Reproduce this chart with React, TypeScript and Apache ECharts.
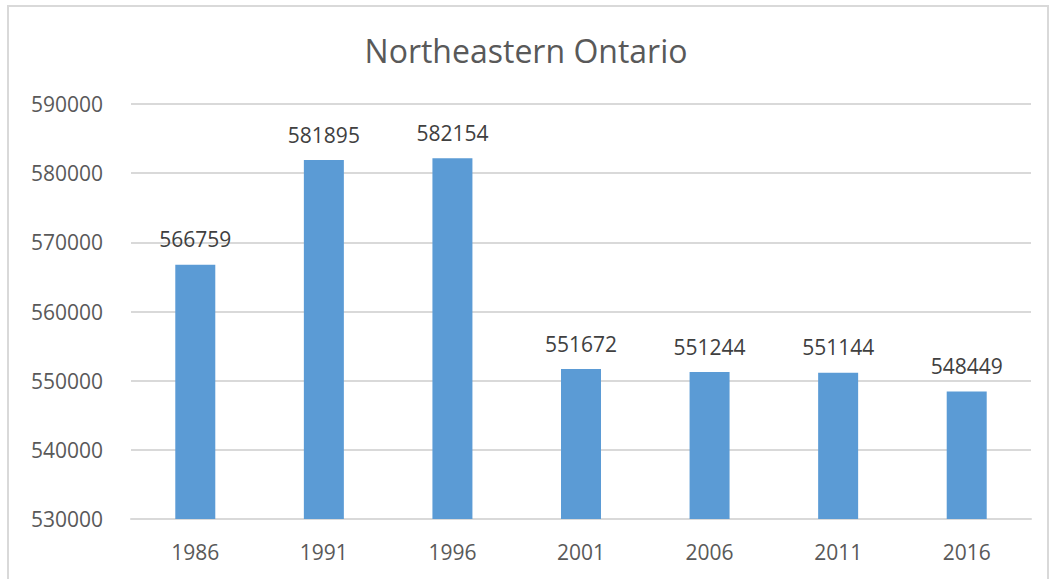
import React, { useEffect, useRef } from "react";
import * as echarts from "echarts";

const categories = ["1986", "1991", "1996", "2001", "2006", "2011", "2016"];
const population = [566759, 581895, 582154, 551672, 551244, 551144, 548449];
const titleText = "Northeastern Ontario";

export default function App() {
  const ref = useRef<HTMLDivElement>(null);
  useEffect(() => {
    if (!ref.current) return;
    const chart = echarts.init(ref.current, undefined, { renderer: "svg" });
    chart.setOption({
      animation: false,
      backgroundColor: "#ffffff",
      title: {
        text: titleText,
        left: "center",
        top: 29,
        textStyle: { fontFamily: "Open Sans", fontSize: 32, fontWeight: "normal", color: "#595959" },
      },
      graphic: [
        {
          type: "rect",
          shape: { x: 8, y: 6, width: 1040, height: 600 },
          style: { fill: "none", stroke: "#d9d9d9", lineWidth: 2 },
          silent: true,
        },
      ],
      grid: { left: 131, right: 21, top: 104, bottom: 60 },
      xAxis: {
        type: "category",
        data: categories,
        axisTick: { show: false },
        axisLine: { lineStyle: { color: "#d9d9d9", width: 2 } },
        axisLabel: { color: "#595959", fontFamily: "Open Sans", fontSize: 21, margin: 22 },
      },
      yAxis: {
        type: "value",
        min: 530000,
        max: 590000,
        interval: 10000,
        axisLine: { show: false },
        axisTick: { show: false },
        splitLine: { lineStyle: { color: "#d9d9d9", width: 2 } },
        axisLabel: {
          color: "#595959",
          fontFamily: "Open Sans",
          fontSize: 21,
          margin: 28,
          formatter: (v: number) => String(v),
        },
      },
      series: [
        {
          type: "bar",
          data: population,
          barWidth: 40,
          itemStyle: { color: "#5B9BD5" },
          label: {
            show: true,
            position: "top",
            distance: 15,
            color: "#404040",
            fontFamily: "Open Sans",
            fontSize: 21,
          },
        },
      ],
    });
    return () => chart.dispose();
  }, []);
  return (
    <div
      ref={ref}
      style={{ position: "fixed", left: 0, top: 0, width: 1052, height: 579, background: "#fff" }}
    />
  );
}
